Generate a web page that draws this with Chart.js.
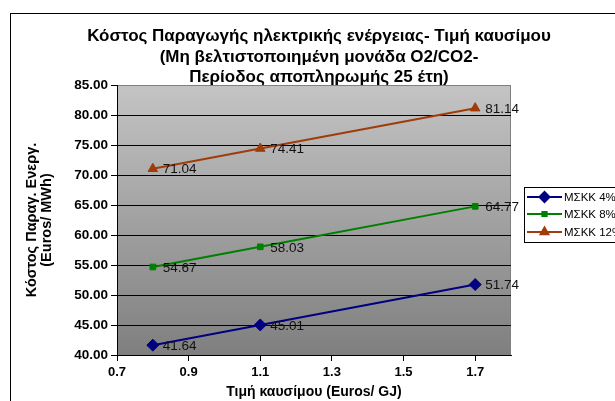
<!DOCTYPE html>
<html>
<head>
<meta charset="utf-8">
<script src="https://cdn.jsdelivr.net/npm/chart.js@4/dist/chart.umd.min.js"></script>
<style>
  html, body { margin: 0; padding: 0; background: #ffffff; }
  canvas { display: block; }
</style>
</head>
<body>
<canvas id="c" width="615" height="401"></canvas>
<script>
// Fuel price (Euros/GJ) on the x axis
const fuelPrice = [0.8, 1.1, 1.7];
// Electricity generation cost (Euros/MWh) per discount rate
const cost4 = [41.64, 45.01, 51.74];
const cost8 = [54.67, 58.03, 64.77];
const cost12 = [71.04, 74.41, 81.14];
const seriesNames = ['ΜΣΚΚ 4%', 'ΜΣΚΚ 8%', 'ΜΣΚΚ 12%'];
const xTickValues = [0.7, 0.9, 1.1, 1.3, 1.5, 1.7];

const titleLines = [
  'Κόστος Παραγωγής ηλεκτρικής ενέργειας- Τιμή καυσίμου',
  '(Μη βελτιστοποιημένη μονάδα O2/CO2-',
  'Περίοδος αποπληρωμής 25 έτη)'
];
const yTitleLines = ['Κόστος Παραγ. Ενεργ.', '(Euros/ MWh)'];
const xTitle = 'Τιμή καυσίμου (Euros/ GJ)';

const FONT = "Arial, 'Liberation Sans', sans-serif";

const toPoints = ys => fuelPrice.map((x, i) => ({ x: x, y: ys[i] }));

const styles = [
  { color: '#000080', shape: 'rectRot', r: 6 },
  { color: '#008000', shape: 'rect', r: 4 },
  { color: '#a03c0a', shape: 'triangle', r: 5.5 }
];

const datasets = [cost4, cost8, cost12].map((ys, i) => ({
  label: seriesNames[i],
  data: toPoints(ys),
  borderColor: styles[i].color,
  backgroundColor: styles[i].color,
  borderWidth: 2,
  pointStyle: styles[i].shape,
  pointRadius: styles[i].r,
  pointHoverRadius: styles[i].r,
  pointBorderWidth: 1,
  showLine: true,
  tension: 0
}));

// Plot background, frame and surrounding texts
const decor = {
  id: 'decor',
  beforeDraw(chart) {
    const { ctx, chartArea: a } = chart;
    ctx.save();
    ctx.fillStyle = '#ffffff';
    ctx.fillRect(0, 0, chart.width, chart.height);
    // outer frame
    ctx.strokeStyle = '#000000';
    ctx.lineWidth = 1;
    ctx.strokeRect(10.5, 13.5, 700, 500);
    // plot area gradient
    const g = ctx.createLinearGradient(0, a.top, 0, a.bottom);
    g.addColorStop(0, '#c4c4c4');
    g.addColorStop(1, '#7f7f7f');
    ctx.fillStyle = g;
    ctx.fillRect(a.left, a.top, a.right - a.left, a.bottom - a.top);
    ctx.strokeStyle = '#808080';
    ctx.strokeRect(a.left + 0.5, a.top + 0.5, a.right - a.left - 1, a.bottom - a.top);
    ctx.restore();
  },
  afterDraw(chart) {
    const { ctx, chartArea: a } = chart;
    ctx.save();
    ctx.fillStyle = '#000000';
    ctx.textAlign = 'center';
    ctx.textBaseline = 'middle';

    // title
    ctx.font = 'bold 17px ' + FONT;
    const tY = [36, 57, 77];
    titleLines.forEach((t, i) => ctx.fillText(t, 319, tY[i]));

    // x axis title
    ctx.font = 'bold 14px ' + FONT;
    ctx.fillText(xTitle, (a.left + a.right) / 2, 392);

    // y axis title
    ctx.save();
    ctx.translate(0, (a.top + a.bottom) / 2);
    ctx.rotate(-Math.PI / 2);
    ctx.font = 'bold 14.5px ' + FONT;
    ctx.fillText(yTitleLines[0], 0, 32);
    ctx.fillText(yTitleLines[1], 0, 47);
    ctx.restore();

    // value labels
    ctx.font = '13.5px ' + FONT;
    ctx.textAlign = 'left';
    chart.data.datasets.forEach((ds, di) => {
      const meta = chart.getDatasetMeta(di);
      meta.data.forEach((pt, pi) => {
        ctx.fillStyle = '#111111';
        ctx.fillText(ds.data[pi].y.toFixed(2), pt.x + 10, pt.y + 1);
      });
    });

    // legend
    const lx = 524, ly = 187;
    ctx.strokeStyle = '#000000';
    ctx.lineWidth = 1;
    ctx.fillStyle = '#ffffff';
    ctx.fillRect(lx + 0.5, ly + 0.5, 200, 55);
    ctx.strokeRect(lx + 0.5, ly + 0.5, 200, 55);
    const rowY = [197, 214, 232];
    ctx.font = '11.5px ' + FONT;
    ctx.textBaseline = 'middle';
    chart.data.datasets.forEach((ds, i) => {
      const y = rowY[i];
      ctx.strokeStyle = ds.borderColor;
      ctx.lineWidth = 2;
      ctx.beginPath();
      ctx.moveTo(527, y);
      ctx.lineTo(562, y);
      ctx.stroke();
      Chart.helpers.drawPoint(ctx, {
        pointStyle: ds.pointStyle,
        radius: ds.pointRadius - 1,
        borderWidth: 1,
        rotation: 0
      }, 544.5, y);
      ctx.fillStyle = ds.borderColor;
      ctx.fill();
      ctx.fillStyle = '#000000';
      ctx.fillText(ds.label, 564, y + 1);
    });
    ctx.restore();
  }
};

new Chart(document.getElementById('c'), {
  type: 'scatter',
  data: { datasets: datasets },
  options: {
    responsive: false,
    animation: false,
    devicePixelRatio: 1,
    layout: { padding: { top: 85, right: 104, bottom: 0, left: 0 } },
    plugins: {
      legend: { display: false },
      title: { display: false },
      tooltip: { enabled: false }
    },
    scales: {
      x: {
        type: 'linear',
        min: 0.7,
        max: 1.8,
        afterBuildTicks: s => { s.ticks = xTickValues.map(v => ({ value: v })); },
        afterFit: s => { s.height = 46; },
        ticks: {
          color: '#000000',
          font: { family: FONT, size: 13, weight: 'bold' },
          padding: 4,
          maxRotation: 0,
          autoSkip: false,
          callback: v => Number(v).toFixed(1)
        },
        grid: {
          drawOnChartArea: false,
          drawTicks: true,
          tickLength: 6,
          tickColor: '#000000'
        },
        border: { display: true, color: '#000000', width: 1 }
      },
      y: {
        min: 40,
        max: 85,
        afterFit: s => { s.width = 117; },
        ticks: {
          stepSize: 5,
          color: '#000000',
          font: { family: FONT, size: 13.5, weight: 'bold' },
          padding: 3,
          callback: v => Number(v).toFixed(2)
        },
        grid: {
          color: c => (c.tick && c.tick.value === 85) ? '#808080' : '#000000',
          lineWidth: 1,
          drawTicks: true,
          tickLength: 6,
          tickColor: '#000000'
        },
        border: { display: true, color: '#000000', width: 1 }
      }
    }
  },
  plugins: [decor]
});
</script>
</body>
</html>
